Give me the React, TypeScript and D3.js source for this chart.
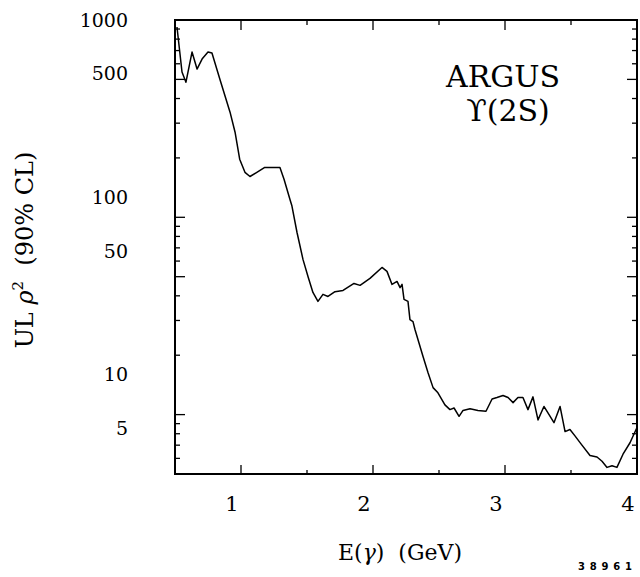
import React from "react";
import * as d3 from "d3";

const energy = [0.515, 0.553, 0.583, 0.629, 0.667, 0.705, 0.75, 0.78, 0.84, 0.917, 0.955, 0.99, 1.03, 1.068, 1.12, 1.18, 1.24, 1.295, 1.326, 1.371, 1.386, 1.424, 1.47, 1.508, 1.545, 1.583, 1.621, 1.659, 1.712, 1.773, 1.856, 1.902, 1.977, 2.068, 2.106, 2.144, 2.182, 2.205, 2.22, 2.235, 2.265, 2.28, 2.303, 2.318, 2.379, 2.417, 2.455, 2.492, 2.545, 2.583, 2.614, 2.652, 2.682, 2.735, 2.795, 2.856, 2.902, 2.939, 2.985, 3.023, 3.061, 3.098, 3.136, 3.174, 3.212, 3.25, 3.295, 3.371, 3.417, 3.455, 3.492, 3.53, 3.583, 3.644, 3.697, 3.735, 3.773, 3.811, 3.848, 3.894, 3.947, 4.0];
const ulRho2 = [922, 545, 484, 688, 564, 634, 688, 680, 501, 341, 270, 197, 169, 161, 169, 179, 179, 179, 156, 123, 114, 84, 61, 50, 41.6, 37.5, 40.7, 39.7, 42, 42.6, 46.2, 45.2, 49, 55.7, 53.2, 45.7, 47.3, 44, 45.7, 38.4, 37.5, 30.3, 29.6, 27, 19.7, 16.3, 13.7, 12.9, 11.2, 10.6, 10.8, 9.8, 10.5, 10.7, 10.5, 10.4, 12.0, 12.2, 12.5, 12.2, 11.5, 12.2, 12.2, 10.6, 12.3, 9.4, 11.0, 9.1, 11.0, 8.2, 8.4, 7.8, 7.0, 6.2, 6.1, 5.8, 5.4, 5.5, 5.4, 6.3, 7.2, 8.6];

const xMajorTicks = [1, 2, 3, 4];
const xMinorTicks = [1.5, 2.5, 3.5];
const yLabelValues = [5, 10, 50, 100, 500, 1000];

const W = 640;
const H = 577;
const L = 175, R = 637, T = 20, B = 474;
const SERIF = "'DejaVu Serif', serif";
const NB = "\u00A0";

export default function App() {
  const x = d3.scaleLinear().domain([0.5, 4.0]).range([L, R]);
  const y = d3.scaleLog().domain([5, 1000]).range([B, T]);
  // the printed tick labels sit on their own (slightly shifted) scale in the original
  const yLab = d3.scaleLog().domain([5, 1000]).range([428, 20]);

  const pts = energy.map((e, i) => [x(e), y(ulRho2[i])] as [number, number]);
  const line = d3.line().curve(d3.curveLinear)(pts) || "";

  const yTicks = y.ticks();
  const isMajor = (v: number) => {
    const f = v / Math.pow(10, Math.floor(Math.log10(v) + 1e-9));
    return Math.abs(f - 1) < 1e-6 || Math.abs(f - 5) < 1e-6;
  };

  return (
    <svg width={W} height={H} style={{ display: "block", position: "absolute", left: 0, top: 0, background: "#fff" }}>
      <rect x={0} y={0} width={W} height={H} fill="#fff" />
      <defs>
        <clipPath id="plotclip">
          <rect x={L} y={T} width={R - L} height={B - T} />
        </clipPath>
      </defs>
      {yTicks.map((v) => {
        const len = isMajor(v) ? 10 : 5;
        const yy = y(v);
        return (
          <g key={"yt" + v} stroke="#000" strokeWidth={1.3}>
            <line x1={L} x2={L + len} y1={yy} y2={yy} />
            <line x1={R} x2={R - len} y1={yy} y2={yy} />
          </g>
        );
      })}
      {xMajorTicks.map((v) => (
        <g key={"xt" + v} stroke="#000" strokeWidth={1.3}>
          <line x1={x(v)} x2={x(v)} y1={B} y2={B - 9} />
          <line x1={x(v)} x2={x(v)} y1={T} y2={T + 10} />
        </g>
      ))}
      {xMinorTicks.map((v) => (
        <g key={"xm" + v} stroke="#000" strokeWidth={1.3}>
          <line x1={x(v)} x2={x(v)} y1={B} y2={B - 4} />
          <line x1={x(v)} x2={x(v)} y1={T} y2={T + 5} />
        </g>
      ))}
      <rect x={L} y={T} width={R - L} height={B - T} fill="none" stroke="#000" strokeWidth={2} />
      <path d={line} fill="none" stroke="#000" strokeWidth={1.5} strokeLinejoin="round" clipPath="url(#plotclip)" />
      {yLabelValues.map((v) => (
        <text key={"yl" + v} x={128} y={yLab(v)} dy="0.36em" textAnchor="end" fontFamily={SERIF} fontSize={19} fill="#000">
          {v}
        </text>
      ))}
      {xMajorTicks.map((v) => (
        <text key={"xl" + v} x={x(v) - 9} y={511} textAnchor="middle" fontFamily={SERIF} fontSize={21} fill="#000">
          {v}
        </text>
      ))}
      <text transform="translate(33,250) rotate(-90)" textAnchor="middle" fontFamily={SERIF} fontSize={24} fill="#000">
        {"UL" + NB}<tspan fontStyle="italic">ρ</tspan><tspan dy={-10} fontSize={15}>2</tspan><tspan dy={10}>{NB + NB + "(90%" + NB + "CL)"}</tspan>
      </text>
      <text x={400} y={560} textAnchor="middle" fontFamily={SERIF} fontSize={22} fill="#000">
        E(<tspan fontStyle="italic">γ</tspan>){NB + NB + "(GeV)"}
      </text>
      <text x={503} y={87} textAnchor="middle" fontFamily={SERIF} fontSize={30} fill="#000">ARGUS</text>
      <text x={508} y={121} textAnchor="middle" fontFamily={SERIF} fontSize={30} fill="#000">ϒ(2S)</text>
      <text x={578} y={570} fontFamily="'DejaVu Sans', sans-serif" fontWeight="bold" fontSize={10} textLength={54} lengthAdjust="spacing" fill="#000">38961</text>
    </svg>
  );
}
